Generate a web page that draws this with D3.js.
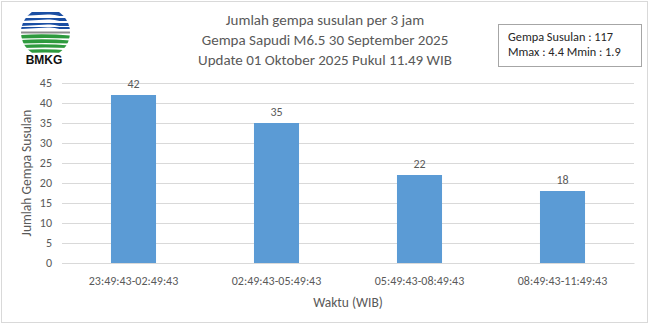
<!DOCTYPE html>
<html>
<head>
<meta charset="utf-8">
<script src="https://cdn.jsdelivr.net/npm/d3@7"></script>
<style>
  body { margin: 0; background: #fff; }
  text { font-family: Carlito, Lato, "Open Sans", sans-serif; fill: #595959; }
</style>
</head>
<body>
<div id="chart"></div>
<script>
// chart data
var periods = ["23:49:43-02:49:43", "02:49:43-05:49:43", "05:49:43-08:49:43", "08:49:43-11:49:43"];
var counts = [42, 35, 22, 18];
var yTicks = [0, 5, 10, 15, 20, 25, 30, 35, 40, 45];
var titleLines = ["Jumlah gempa susulan per 3 jam", "Gempa Sapudi M6.5 30 September 2025", "Update 01 Oktober 2025 Pukul 11.49 WIB"];
var infoLines = ["Gempa Susulan : 117", "Mmax : 4.4 Mmin : 1.9"];

// svg size and plot margins
var svgWidth = 650;
var svgHeight = 324;
var margin = { top: 83, right: 16, bottom: 61, left: 62 };
var chartWidth = svgWidth - margin.left - margin.right;
var chartHeight = svgHeight - margin.top - margin.bottom;

var svg = d3.select("#chart")
    .append("svg")
    .attr("width", svgWidth)
    .attr("height", svgHeight);

// outer frame
svg.append("rect")
    .attr("x", 1.5)
    .attr("y", 1.5)
    .attr("width", svgWidth - 4)
    .attr("height", svgHeight - 3)
    .attr("fill", "#fff")
    .attr("stroke", "#d9d9d9");

var chartGroup = svg.append("g")
    .attr("transform", `translate(${margin.left}, ${margin.top})`);

// scales
var xScale = d3.scaleBand()
    .domain(periods)
    .range([0, chartWidth])
    .padding(0);

var yScale = d3.scaleLinear()
    .domain([0, 45])
    .range([chartHeight, 0]);

// gridlines
chartGroup.append("g")
    .call(d3.axisLeft(yScale).tickValues(yTicks).tickSize(-chartWidth).tickFormat(""))
    .call(g => g.select(".domain").remove())
    .selectAll("line")
    .attr("stroke", "#d9d9d9");

// y tick labels
var yAxis = chartGroup.append("g")
    .call(d3.axisLeft(yScale).tickValues(yTicks).tickSize(0).tickPadding(10));
yAxis.select(".domain").remove();
yAxis.selectAll("text")
    .attr("font-size", 12)
    .attr("fill", "#595959");

// x axis
var xAxis = chartGroup.append("g")
    .attr("transform", `translate(0, ${chartHeight})`)
    .call(d3.axisBottom(xScale).tickSize(0).tickPadding(13));
xAxis.select(".domain").attr("stroke", "#d9d9d9");
xAxis.selectAll("text")
    .attr("font-size", 12)
    .attr("fill", "#595959");

// bars
var barWidth = xScale.bandwidth() * 0.315;
chartGroup.selectAll(".bar")
    .data(counts)
    .enter()
    .append("rect")
    .attr("class", "bar")
    .attr("x", (d, i) => xScale(periods[i]) + (xScale.bandwidth() - barWidth) / 2)
    .attr("y", d => yScale(d))
    .attr("width", barWidth)
    .attr("height", d => chartHeight - yScale(d))
    .attr("fill", "#5b9bd5");

// data labels
chartGroup.selectAll(".val")
    .data(counts)
    .enter()
    .append("text")
    .attr("class", "val")
    .attr("x", (d, i) => xScale(periods[i]) + xScale.bandwidth() / 2)
    .attr("y", d => yScale(d) - 7)
    .attr("text-anchor", "middle")
    .attr("font-size", 12)
    .text(d => d);

// axis titles
chartGroup.append("text")
    .attr("x", chartWidth / 2)
    .attr("y", chartHeight + 44)
    .attr("text-anchor", "middle")
    .attr("font-size", 13.5)
    .text("Waktu (WIB)");

chartGroup.append("text")
    .attr("transform", "rotate(-90)")
    .attr("x", -chartHeight / 2)
    .attr("y", -31)
    .attr("text-anchor", "middle")
    .attr("font-size", 13.5)
    .text("Jumlah Gempa Susulan");

// chart title
svg.append("g").selectAll("text")
    .data(titleLines)
    .enter()
    .append("text")
    .attr("x", svgWidth / 2)
    .attr("y", (d, i) => 25 + i * 19.8)
    .attr("text-anchor", "middle")
    .attr("font-size", 15)
    .text(d => d);

// info box
svg.append("rect")
    .attr("x", 498.5)
    .attr("y", 24.5)
    .attr("width", 143)
    .attr("height", 42)
    .attr("fill", "#fff")
    .attr("stroke", "#a6a6a6");

svg.append("g").selectAll("text")
    .data(infoLines)
    .enter()
    .append("text")
    .attr("x", 508)
    .attr("y", (d, i) => 41 + i * 15)
    .attr("font-size", 12.3)
    .style("fill", "#262626")
    .text(d => d);

// BMKG logo
var logo = svg.append("g").attr("transform", "translate(45.5, 32.5)");
logo.append("clipPath").attr("id", "logoClip")
    .append("circle").attr("r", 24.5);
var logoInner = logo.append("g").attr("clip-path", "url(#logoClip)");
// blue upper bands [top, height]
[[-20.5, 4], [-14.5, 3], [-9.5, 3], [-5.5, 2]].forEach(function(b) {
    var t = b[0], h = b[1];
    logoInner.append("path")
        .attr("d", `M-26,${t} L26,${t} L26,${t + h} L14,${t + h} Q8,${t + h - 2} 2,${t + h - 1.5} L-26,${t + h} Z`)
        .attr("fill", "#1b4fa3");
});
// grey middle line
logoInner.append("rect").attr("x", -26).attr("y", -1).attr("width", 52).attr("height", 2).attr("fill", "#8c8c8c");
// green lower bands
[[2.5, 3.5], [7.5, 3.5], [12.5, 3], [17.5, 3]].forEach(function(b) {
    var t = b[0], h = b[1];
    logoInner.append("path")
        .attr("d", `M-26,${t} Q0,${t - 1.5} 26,${t + 0.5} L26,${t + h} Q0,${t + h - 1} -26,${t + h} Z`)
        .attr("fill", "#2e9a3e");
});
svg.append("text")
    .attr("x", 44)
    .attr("y", 63.5)
    .attr("text-anchor", "middle")
    .attr("font-size", 12)
    .attr("font-weight", "bold")
    .style("font-family", "'Liberation Sans', Arial, sans-serif")
    .style("fill", "#111")
    .text("BMKG");
</script>
</body>
</html>
